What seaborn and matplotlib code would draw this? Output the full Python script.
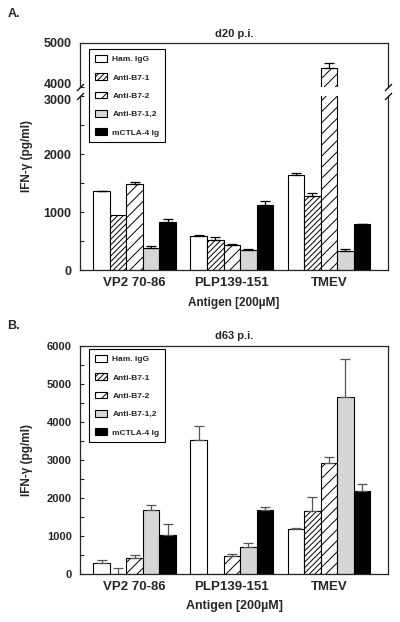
import numpy as np
import pandas as pd
import matplotlib
matplotlib.use("Agg")
from matplotlib import pyplot as plt
from matplotlib.patches import Patch
from matplotlib import transforms
import seaborn as sns

antigens = ["VP2 70-86", "PLP139-151", "TMEV"]
treatments = ["Ham. IgG", "Anti-B7-1", "Anti-B7-2", "Anti-B7-1,2", "mCTLA-4 Ig"]

# panel A, d20 p.i. (one list per treatment, values per antigen)
d20_ham = [1355, 595, 1640]
d20_b71 = [955, 525, 1270]
d20_b72 = [1485, 423, 4426]
d20_b712 = [372, 337, 335]
d20_ctla = [835, 1125, 790]
d20_ham_err = [12, 10, 40]
d20_b71_err = [0, 50, 50]
d20_b72_err = [35, 17, 110]
d20_b712_err = [35, 28, 22]
d20_ctla_err = [50, 63, 12]

# panel B, d63 p.i.
d63_ham = [300, 3520, 1185]
d63_b71 = [10, 20, 1675]
d63_b72 = [440, 480, 2920]
d63_b712 = [1700, 720, 4650]
d63_ctla = [1035, 1700, 2200]
d63_ham_err = [70, 385, 25]
d63_b71_err = [165, 0, 350]
d63_b72_err = [60, 60, 150]
d63_b712_err = [130, 115, 1000]
d63_ctla_err = [290, 80, 165]

fills = ["white", "white", "white", "#d6d6d6", "black"]
hatches = ["", "//////", "///", "", ""]


def make_df(vals):
    rows = []
    for t, vs in zip(treatments, vals):
        for a, v in zip(antigens, vs):
            rows.append({"antigen": a, "treatment": t, "ifn": v})
    return pd.DataFrame(rows)


df20 = make_df([d20_ham, d20_b71, d20_b72, d20_b712, d20_ctla])
err20 = [d20_ham_err, d20_b71_err, d20_b72_err, d20_b712_err, d20_ctla_err]
df63 = make_df([d63_ham, d63_b71, d63_b72, d63_b712, d63_ctla])
err63 = [d63_ham_err, d63_b71_err, d63_b72_err, d63_b712_err, d63_ctla_err]

sns.set_style("ticks")
plt.rcParams["font.family"] = ["Liberation Sans", "DejaVu Sans"]
plt.rcParams["hatch.linewidth"] = 0.7
plt.rcParams["axes.linewidth"] = 0.9

palette = dict(zip(treatments, fills))


def draw_bars(ax, df, errs, ecolor):
    sns.barplot(data=df, x="antigen", y="ifn", hue="treatment", order=antigens,
                hue_order=treatments, palette=palette, saturation=1, errorbar=None,
                width=0.85, edgecolor="black", linewidth=0.8, legend=False, ax=ax)
    for cont, h, e in zip(ax.containers, hatches, errs):
        for bar in cont:
            bar.set_hatch(h)
            xc = bar.get_x() + bar.get_width() / 2
            i = int(round(xc))
            if e[i] > 0:
                ax.errorbar(xc, bar.get_height(), yerr=[[0], [e[i]]], fmt="none",
                            ecolor=ecolor, elinewidth=0.9, capsize=3.5, capthick=0.9)
    ax.set_xlim(-0.562, 2.608)
    ax.set_xlabel("")
    ax.set_ylabel("")


def style_y(ax, size):
    ax.tick_params(axis="y", direction="in", length=3, width=0.8, pad=6, labelsize=size)
    ax.tick_params(axis="y", which="minor", direction="in", length=3, width=0.8)
    for lab in ax.get_yticklabels():
        lab.set_fontweight("bold")


fig = plt.figure(figsize=(4, 6.22), dpi=100)

# ---- panel A (broken axis) ----
axA_low = fig.add_axes([0.2, 0.5659, 0.77, 0.2797])
axA_top = fig.add_axes([0.2, 0.8596, 0.77, 0.0717])
draw_bars(axA_low, df20, err20, "black")
draw_bars(axA_top, df20, err20, "black")

axA_low.set_ylim(0, 3000)
axA_low.set_yticks([0, 1000, 2000, 3000])
axA_low.set_yticks([500, 1500, 2500], minor=True)
axA_low.spines["top"].set_visible(False)
axA_low.tick_params(axis="x", length=0, pad=5)
for lab in axA_low.get_xticklabels():
    lab.set_fontweight("bold")
    lab.set_fontsize(9.5)
style_y(axA_low, 9)

axA_top.set_ylim(4000, 5000)
axA_top.set_yticks([4000, 5000])
axA_top.spines["bottom"].set_visible(False)
axA_top.tick_params(axis="x", length=0, labelbottom=False)
style_y(axA_top, 9)

# nudge the crowded 4000 / 3000 labels apart a little
lab4000 = axA_top.get_yticklabels()[0]
lab4000.set_transform(lab4000.get_transform() +
                      transforms.ScaledTranslation(0, 2.5 / 72, fig.dpi_scale_trans))
lab3000 = axA_low.get_yticklabels()[-1]
lab3000.set_transform(lab3000.get_transform() +
                      transforms.ScaledTranslation(0, -2.5 / 72, fig.dpi_scale_trans))

kw = dict(marker=[(-1, -1), (1, 1)], markersize=5, linestyle="none",
          color="k", mec="k", mew=0.9, clip_on=False)
axA_top.plot([0, 1], [0, 0], transform=axA_top.transAxes, **kw)
axA_low.plot([0, 1], [1, 1], transform=axA_low.transAxes, **kw)

axA_top.set_title("d20 p.i.", fontsize=8, fontweight="bold", pad=4)
axA_low.set_ylabel("IFN-γ (pg/ml)", fontsize=8.5, fontweight="bold")
axA_low.yaxis.set_label_coords(-0.153, 0.655)
axA_low.set_xlabel("Antigen [200µM]", fontsize=8.5, fontweight="bold", labelpad=6)

# ---- panel B ----
axB = fig.add_axes([0.2, 0.0767, 0.77, 0.367])
draw_bars(axB, df63, err63, "#555555")
axB.set_ylim(0, 6000)
axB.set_yticks(np.arange(0, 6001, 1000))
axB.set_yticks(np.arange(500, 6000, 1000), minor=True)
axB.tick_params(axis="x", length=0, pad=5)
for lab in axB.get_xticklabels():
    lab.set_fontweight("bold")
    lab.set_fontsize(9.5)
style_y(axB, 8)
axB.set_title("d63 p.i.", fontsize=8, fontweight="bold", pad=5)
axB.set_ylabel("IFN-γ (pg/ml)", fontsize=8.5, fontweight="bold")
axB.yaxis.set_label_coords(-0.153, 0.5)
axB.set_xlabel("Antigen [200µM]", fontsize=9, fontweight="bold", labelpad=5)

# legends
handles = [Patch(facecolor=f, edgecolor="black", hatch=h, linewidth=0.8)
           for f, h in zip(fills, hatches)]
for anchor in [(0.2225, 0.9212), (0.2225, 0.4389)]:
    leg = fig.legend(handles, treatments, loc="upper left", bbox_to_anchor=anchor,
                     frameon=True, fancybox=False, framealpha=1, edgecolor="black",
                     handlelength=1.5, handleheight=0.9, labelspacing=1.2,
                     handletextpad=0.6, borderpad=0.7, borderaxespad=0,
                     prop={"size": 6, "weight": "bold"})
    leg.get_frame().set_linewidth(0.8)

fig.text(0.018, 0.978, "A.", fontsize=9, fontweight="bold", va="center")
fig.text(0.018, 0.476, "B.", fontsize=9, fontweight="bold", va="center")

fig.savefig("out.png", dpi=100, facecolor="white")
